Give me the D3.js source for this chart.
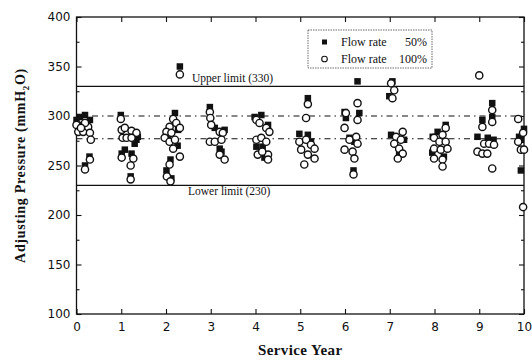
<!DOCTYPE html>
<html>
<head>
<meta charset="utf-8">
<script src="https://cdn.jsdelivr.net/npm/d3@7"></script>
<style>
  body { margin: 0; background: #fff; }
  svg { display: block; }
  .tick text { font-family: "DejaVu Sans", sans-serif; font-size: 12px; fill: #111; }
  .tick line { stroke: #111; stroke-width: 1.1; }
  .serif { font-family: "Liberation Serif", "Times New Roman", serif; fill: #111; }
</style>
</head>
<body>
<div id="chart"></div>
<script>
// values: [service year, pressure mmH2O]
const flow50 = [
  [0.0,296],[0.08,299],[0.19,301],[0.30,296],[0.14,291],[0.26,288],[0.19,250],[0.29,259],
  [0.99,301],[1.34,276],[1.30,272],[1.37,279],[1.08,266],[1.23,262],[1.01,262],[1.21,239],
  [2.20,303],[2.27,286],[2.04,280],[2.26,270],[2.10,256],[2.01,245],[2.12,237],[2.31,350],
  [2.98,309],[3.09,288],[3.31,286],[3.20,267],[3.24,264],
  [3.98,299],[4.13,301],[4.28,291],[4.02,269],[4.16,269],[4.20,258],
  [5.17,318],[4.98,282],[5.17,281],[5.24,274],
  [6.28,335],[5.99,304],[6.32,303],[6.02,298],[6.10,278],[6.21,274],[6.19,245],
  [7.06,335],[6.99,320],[7.03,281],[7.32,276],[7.21,263],
  [8.25,291],[8.07,284],[7.96,279],[8.21,259],[7.95,263],
  [9.29,313],[9.29,299],[9.07,296],[8.96,279],[9.19,278],[9.32,276],
  [10.0,287],[9.89,279],[9.93,276],[9.93,245]
];
const flow100 = [
  [0.0,291],[0.04,284],[0.15,284],[0.26,289],[0.30,283],[0.32,276],[0.19,293],[0.10,288],[0.19,246],[0.30,256],
  [0.99,297],[1.01,286],[1.08,288],[1.23,285],[1.34,283],[1.03,278],[1.12,278],[1.23,278],[1.01,258],[1.27,257],[1.21,250],[1.21,236],
  [2.16,297],[2.08,289],[2.23,293],[2.31,288],[2.01,284],[2.12,283],[1.97,278],[2.08,274],[2.20,276],[2.16,267],[2.31,259],[2.08,251],[2.02,239],[2.10,234],[2.31,342],
  [2.98,304],[2.99,298],[3.01,291],[3.20,284],[3.27,283],[2.98,274],[3.09,274],[3.24,276],[3.20,261],[3.31,256],
  [4.02,296],[4.09,293],[4.24,288],[4.31,284],[4.02,276],[4.13,278],[4.24,274],[4.05,261],[4.28,261],[4.15,264],[4.28,256],
  [5.17,312],[5.13,298],[4.98,274],[5.13,276],[5.24,271],[5.32,267],[5.02,266],[5.17,261],[5.32,257],[5.09,251],
  [6.28,313],[6.02,303],[6.28,296],[5.99,288],[6.10,276],[6.25,279],[6.28,272],[5.99,266],[6.17,264],[6.21,257],[6.19,241],
  [7.03,333],[7.10,326],[7.06,318],[7.14,279],[7.29,284],[7.25,276],[7.10,272],[7.21,267],[7.29,262],[7.18,257],
  [8.25,288],[8.18,281],[7.99,278],[8.11,274],[8.25,274],[7.99,267],[8.14,266],[8.29,267],[7.99,257],[8.18,256],[8.18,249],
  [9.0,341],[9.29,306],[9.29,294],[9.07,289],[9.11,272],[9.22,272],[9.33,271],[8.96,264],[9.07,262],[9.18,262],[9.29,247],
  [9.87,297],[9.98,283],[9.87,274],[9.93,266],[10.0,266],[9.98,208]
];
const xTicks = [0,1,2,3,4,5,6,7,8,9,10];
const yTicks = [100,150,200,250,300,350,400];
const yMinor = [125,175,225,275,325,375];
const limits = [{v:330, label:"Upper limit (330)"}, {v:230, label:"Lower limit (230)"}];
const guides = [300, 277];
const legendItems = [{name:"Flow rate", pct:"50%", shape:"square"}, {name:"Flow rate", pct:"100%", shape:"circle"}];

const width = 532, height = 361;
const mLeft = 76.5, mRight = 524, mTop = 17, mBottom = 314;

const svg = d3.select('#chart').append('svg')
  .attr('width', width).attr('height', height);

const x = d3.scaleLinear().domain([0,10]).range([mLeft, mRight]);
const y = d3.scaleLinear().domain([100,400]).range([mBottom, mTop]);

// axes, ticks pointing inward on all four sides
svg.append('g').attr('transform', 'translate(0,'+mBottom+')')
  .call(d3.axisBottom(x).tickValues(xTicks).tickSize(-5).tickSizeOuter(0).tickPadding(8).tickFormat(d3.format('d')))
  .call(g => g.select('.domain').remove());
svg.append('g').attr('transform', 'translate(0,'+mTop+')')
  .call(d3.axisTop(x).tickValues(xTicks).tickSize(-5).tickSizeOuter(0).tickFormat(''))
  .call(g => g.select('.domain').remove());
svg.append('g').attr('transform', 'translate('+mLeft+',0)')
  .call(d3.axisLeft(y).tickValues(yTicks).tickSize(-5).tickSizeOuter(0).tickPadding(6).tickFormat(d3.format('d')))
  .call(g => g.select('.domain').remove());
svg.append('g').attr('transform', 'translate('+mLeft+',0)')
  .call(d3.axisLeft(y).tickValues(yMinor).tickSize(-3).tickSizeOuter(0).tickFormat(''))
  .call(g => g.select('.domain').remove());
svg.append('g').attr('transform', 'translate('+mRight+',0)')
  .call(d3.axisRight(y).tickValues(yTicks).tickSize(-5).tickSizeOuter(0).tickFormat(''))
  .call(g => g.select('.domain').remove());
svg.append('g').attr('transform', 'translate('+mRight+',0)')
  .call(d3.axisRight(y).tickValues(yMinor).tickSize(-3).tickSizeOuter(0).tickFormat(''))
  .call(g => g.select('.domain').remove());

svg.append('rect')
  .attr('x', mLeft).attr('y', mTop).attr('width', mRight-mLeft).attr('height', mBottom-mTop)
  .style('fill', 'none').style('stroke', '#111').style('stroke-width', 1.3);

// limit lines and labels
svg.selectAll('line.limit').data(limits).enter().append('line').attr('class', 'limit')
  .attr('x1', mLeft).attr('x2', mRight).attr('y1', d=>y(d.v)).attr('y2', d=>y(d.v))
  .style('stroke', '#111').style('stroke-width', 1.2);
svg.append('text').attr('class', 'serif')
  .attr('x', 192).attr('y', y(limits[0].v)-4).style('font-size', '11.5px')
  .text(limits[0].label);
svg.append('text').attr('class', 'serif')
  .attr('x', 188).attr('y', y(limits[1].v)+10).style('font-size', '11.5px')
  .text(limits[1].label);

svg.selectAll('line.guide').data(guides).enter().append('line').attr('class', 'guide')
  .attr('x1', mLeft).attr('x2', mRight).attr('y1', d=>y(d)).attr('y2', d=>y(d))
  .style('stroke', '#111').style('stroke-width', 1.2).style('stroke-dasharray', '6,4,1.5,4');

// points: squares first, circles on top
const sq = 6.5;
svg.selectAll('rect.p50').data(flow50).enter().append('rect').attr('class', 'p50')
  .attr('x', d=>x(d[0])-sq/2).attr('y', d=>y(d[1])-sq/2)
  .attr('width', sq).attr('height', sq).style('fill', '#111');
svg.selectAll('circle.p100').data(flow100).enter().append('circle').attr('class', 'p100')
  .attr('cx', d=>x(d[0])).attr('cy', d=>y(d[1])).attr('r', 3.6)
  .style('fill', '#fff').style('stroke', '#111').style('stroke-width', 1.4);

// legend
const lg = svg.append('g').attr('transform', 'translate(308,30)');
lg.append('rect').attr('width', 124).attr('height', 38)
  .style('fill', '#fff').style('stroke', '#444').style('stroke-width', 0.8).style('stroke-dasharray', '1.5,1');
legendItems.forEach((d,i) => {
  const cy = 12 + i*17;
  if (d.shape == 'square') {
    lg.append('rect').attr('x', 14).attr('y', cy-2.5).attr('width', 5).attr('height', 5).style('fill', '#111');
  } else {
    lg.append('circle').attr('cx', 16.5).attr('cy', cy).attr('r', 2.8)
      .style('fill', '#fff').style('stroke', '#111').style('stroke-width', 1.1);
  }
  lg.append('text').attr('class', 'serif').attr('x', 33).attr('y', cy+4).style('font-size', '12px').text(d.name);
  lg.append('text').attr('class', 'serif').attr('x', 119).attr('y', cy+4).style('font-size', '12px')
    .style('text-anchor', 'end').text(d.pct);
});

// axis titles
svg.append('text').attr('class', 'serif')
  .attr('x', (mLeft+mRight)/2).attr('y', 355).style('text-anchor', 'middle')
  .style('font-size', '15px').style('font-weight', 'bold').style('letter-spacing', '0.4px')
  .text('Service Year');
const yt = svg.append('text').attr('class', 'serif')
  .attr('transform', 'translate(25,'+((mTop+mBottom)/2)+') rotate(-90)')
  .style('text-anchor', 'middle').style('font-size', '14px').style('font-weight', 'bold').style('letter-spacing', '0.7px');
yt.append('tspan').text('Adjusting Pressure (mmH');
yt.append('tspan').attr('dy', 4).style('font-size', '9px').text('2');
yt.append('tspan').attr('dy', -4).text('O)');
</script>
</body>
</html>
